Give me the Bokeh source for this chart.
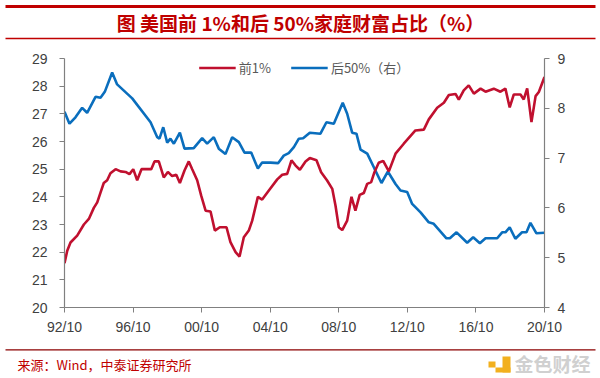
from bokeh.plotting import figure
from bokeh.models import Range1d, LinearAxis, FixedTicker, Legend, LegendItem, Label
from bokeh.layouts import column
from bokeh.embed import file_html
from bokeh.resources import INLINE

TITLE = "图 美国前 1%和后 50%家庭财富占比（%）"
SOURCE = "来源：Wind，中泰证券研究所"
WATERMARK = "金色财经"
LEGEND_TOP1 = "前1%"
LEGEND_BOTTOM50 = "后50%（右）"

tick_years = [1992.75, 1996.75, 2000.75, 2004.75, 2008.75, 2012.75, 2016.75, 2020.75]
tick_labels = ["92/10", "96/10", "00/10", "04/10", "08/10", "12/10", "16/10", "20/10"]

top1_years = [1992.75, 1992.91, 1993.10, 1993.49, 1993.88, 1994.17, 1994.46, 1994.66, 1994.85, 1995.04,
              1995.24, 1995.43, 1995.73, 1996.02, 1996.31, 1996.54, 1996.76, 1996.99, 1997.24, 1997.52,
              1997.81, 1998.00, 1998.25, 1998.54, 1998.78, 1999.03, 1999.27, 1999.48, 1999.75, 2000.00,
              2000.20, 2000.49, 2000.72, 2000.98, 2001.27, 2001.52, 2001.81, 2002.20, 2002.43, 2002.73,
              2002.96, 2003.21, 2003.50, 2003.70, 2004.03, 2004.28, 2004.67, 2005.16, 2005.45, 2005.74,
              2005.99, 2006.23, 2006.48, 2006.81, 2007.06, 2007.45, 2007.72, 2008.07, 2008.37, 2008.56,
              2008.75, 2008.95, 2009.24, 2009.49, 2009.72, 2009.97, 2010.21, 2010.41, 2010.64, 2010.83,
              2011.08, 2011.34, 2011.67, 2012.06, 2012.54, 2013.22, 2013.71, 2014.00, 2014.49, 2014.88,
              2015.17, 2015.56, 2015.75, 2016.04, 2016.33, 2016.63, 2017.02, 2017.31, 2017.79, 2018.18,
              2018.47, 2018.72, 2018.96, 2019.35, 2019.54, 2019.74, 2019.99, 2020.23, 2020.42, 2020.75]
top1_values = [21.6, 22.05, 22.35, 22.6, 23.0, 23.2, 23.6, 23.8, 24.15, 24.5,
               24.6, 24.85, 25.0, 24.92, 24.9, 24.82, 25.0, 24.6, 25.0, 25.0,
               25.0, 25.28, 25.28, 24.7, 24.9, 24.75, 24.8, 24.5, 24.95, 25.28,
               25.0, 24.6, 24.05, 23.5, 23.47, 22.78, 22.9, 22.9, 22.36, 22.0,
               21.84, 22.54, 22.78, 23.14, 24.0, 23.9, 24.23, 24.63, 24.8, 24.83,
               25.32, 25.13, 24.98, 25.28, 25.4, 25.32, 24.89, 24.59, 24.29, 23.68,
               22.9, 22.8, 23.14, 24.0, 23.5, 24.07, 24.14, 24.47, 24.53, 24.89,
               25.23, 25.3, 24.92, 25.56, 25.92, 26.4, 26.43, 26.8, 27.22, 27.4,
               27.68, 27.72, 27.51, 27.85, 28.03, 27.73, 27.91, 27.8, 27.91, 27.8,
               27.91, 27.23, 27.7, 27.7, 27.52, 27.92, 26.7, 27.64, 27.79, 28.33]

bottom50_years = [1992.75, 1993.04, 1993.39, 1993.78, 1994.07, 1994.56, 1994.85, 1995.10, 1995.53, 1995.82,
                  1996.70, 1997.77, 1998.16, 1998.29, 1998.51, 1998.74, 1998.93, 1999.13, 1999.48, 1999.75,
                  2000.29, 2000.78, 2001.07, 2001.46, 2001.75, 2002.14, 2002.53, 2002.92, 2003.25, 2003.64,
                  2004.03, 2004.28, 2004.77, 2005.22, 2005.54, 2005.83, 2006.13, 2006.42, 2006.67, 2007.06,
                  2007.68, 2008.03, 2008.46, 2008.98, 2009.24, 2009.53, 2009.78, 2010.02, 2010.41, 2010.83,
                  2011.24, 2011.61, 2012.06, 2012.35, 2012.74, 2013.03, 2013.52, 2014.00, 2014.29, 2015.03,
                  2015.23, 2015.62, 2016.24, 2016.59, 2016.98, 2017.31, 2017.99, 2018.28, 2018.47, 2018.72,
                  2019.05, 2019.44, 2019.70, 2019.93, 2020.28, 2020.75]
bottom50_values = [7.93, 7.69, 7.82, 8.01, 7.91, 8.23, 8.21, 8.33, 8.72, 8.48,
                   8.2, 7.72, 7.42, 7.39, 7.62, 7.31, 7.39, 7.29, 7.51, 7.19,
                   7.2, 7.4, 7.29, 7.42, 7.19, 7.08, 7.42, 7.32, 7.11, 7.11,
                   6.79, 6.91, 6.91, 6.9, 7.05, 7.1, 7.22, 7.39, 7.4, 7.51,
                   7.49, 7.72, 7.69, 8.11, 7.89, 7.51, 7.49, 7.17, 7.09, 6.79,
                   6.5, 6.73, 6.48, 6.35, 6.32, 6.08, 5.91, 5.71, 5.68, 5.39,
                   5.39, 5.51, 5.3, 5.41, 5.29, 5.39, 5.39, 5.51, 5.51, 5.61,
                   5.38, 5.51, 5.51, 5.7, 5.49, 5.5]

W = 600
RED = "#C0102F"
BLUE = "#0A6EBD"
DARKRED = "#C00000"
AXIS_GRAY = "#808080"
LABEL_GRAY = "#404040"


def banner(height):
    f = figure(width=W, height=height, x_range=Range1d(0, W), y_range=Range1d(height, 0),
               x_axis_type=None, y_axis_type=None, toolbar_location=None,
               output_backend="svg", min_border=0, title=None)
    f.outline_line_color = None
    f.frame_align = False
    return f


# header
header = banner(40)
header.segment(x0=[5], y0=[6], x1=[595], y1=[6], line_color=DARKRED, line_width=3)
header.segment(x0=[5], y0=[38], x1=[595], y1=[38], line_color=DARKRED, line_width=1.5)
header.add_layout(Label(x=300, y=22, text=TITLE, text_align="center", text_baseline="middle",
                        text_font="Noto Sans CJK SC", text_font_style="bold",
                        text_font_size="19px", text_color=DARKRED))

# main chart
p = figure(width=W, height=300, x_range=Range1d(tick_years[0], tick_years[-1]), y_range=Range1d(20, 29),
           toolbar_location=None, output_backend="svg", title=None,
           min_border_left=64, min_border_right=56, min_border_top=18, min_border_bottom=33)
p.frame_align = False
p.extra_y_ranges = {"right": Range1d(4, 9)}
p.outline_line_color = None
p.grid.visible = False

r_blue = p.line(bottom50_years, bottom50_values, y_range_name="right", line_color=BLUE, line_width=2.6)
r_red = p.line(top1_years, top1_values, line_color=RED, line_width=2.6)

right_axis = LinearAxis(y_range_name="right")
p.add_layout(right_axis, "right")

p.xaxis.ticker = FixedTicker(ticks=tick_years)
p.xaxis.major_label_overrides = {t: l for t, l in zip(tick_years, tick_labels)}
p.yaxis.ticker = FixedTicker(ticks=list(range(20, 30)))
right_axis.ticker = FixedTicker(ticks=list(range(4, 10)))

for ax in [p.xaxis[0], p.yaxis[0], right_axis]:
    ax.axis_line_color = AXIS_GRAY
    ax.axis_line_width = 1.2
    ax.major_tick_line_color = AXIS_GRAY
    ax.major_tick_out = 5
    ax.major_tick_in = 0
    ax.minor_tick_line_color = None
    ax.major_label_text_font = "Liberation Sans"
    ax.major_label_text_font_size = "14px"
    ax.major_label_text_color = LABEL_GRAY
p.yaxis[0].major_label_standoff = 12
right_axis.major_label_standoff = 8
p.xaxis[0].major_label_standoff = 6

legend = Legend(items=[LegendItem(label=LEGEND_TOP1, renderers=[r_red]),
                       LegendItem(label=LEGEND_BOTTOM50, renderers=[r_blue])],
                location="top_center", orientation="horizontal",
                glyph_width=37, glyph_height=13, label_height=13, label_standoff=3, spacing=20,
                padding=0, margin=0, border_line_color=None, background_fill_alpha=0,
                label_text_font="Noto Sans CJK SC", label_text_font_size="13px",
                label_text_color="#595959")
p.add_layout(legend)

# footer
footer = banner(38)
footer.segment(x0=[5], y0=[9.3], x1=[595], y1=[9.3], line_color="#8B0000", line_width=1.2)
footer.add_layout(Label(x=17, y=24, text=SOURCE, text_align="left", text_baseline="middle",
                        text_font="Noto Sans CJK SC", text_font_size="13px", text_color=DARKRED))
footer.add_layout(Label(x=514, y=23, text=WATERMARK, text_align="left", text_baseline="middle",
                        text_font="Noto Sans CJK SC", text_font_style="bold",
                        text_font_size="19px", text_color="#D0D0D0"))
footer.quad(left=[488, 502, 495], right=[495, 510, 510], top=[21, 16, 27], bottom=[27, 32, 32],
            fill_color="#F2B01E", line_color=None)

layout = column(header, p, footer, spacing=0)
open("out.html", "w").write(file_html(layout, INLINE))
